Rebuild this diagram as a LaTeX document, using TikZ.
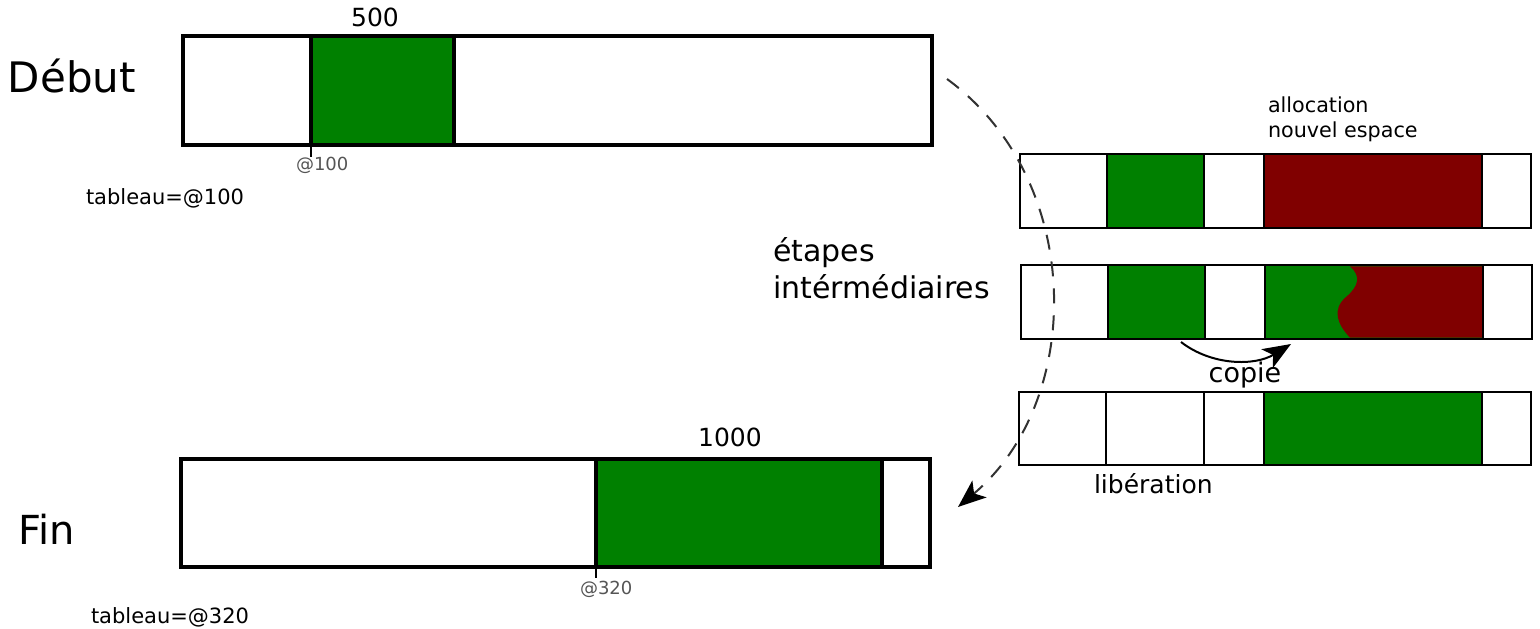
\documentclass[tikz,border=0pt]{standalone}
\usepackage{fontspec}
\setmainfont{DejaVu Sans}
\usetikzlibrary{arrows.meta}
\definecolor{memgreen}{RGB}{0,128,0}
\definecolor{memred}{RGB}{128,0,0}
\definecolor{addrgray}{RGB}{85,85,85}
\definecolor{dashgray}{RGB}{50,50,50}
\tikzset{
  fs/.style={font=\fontsize{#1}{#1}\selectfont},
  cellbase/.style={draw=black, fill=white, inner sep=0pt, outer sep=0pt, anchor=north west, rectangle},
  bigcell/.style={cellbase, line width=3.8pt},
  smallcell/.style={cellbase, line width=2.6pt},
  usedcell/.style={fill=memgreen},
  newcell/.style={fill=memred},
  lbl/.style={inner sep=0pt, outer sep=0pt, anchor=base west},
  addr/.style={lbl, fs=18, text=addrgray},
  tick/.style={line width=1.6pt, draw=black},
  flow/.style={dashgray, line width=2pt, dash pattern=on 15pt off 12pt, -{Stealth[length=28pt,width=22pt,inset=7pt,black]}},
  copyarrow/.style={black, line width=2pt, -{Stealth[length=28pt,width=22pt,inset=7pt]}},
}
\begin{document}
\begin{tikzpicture}[x=1pt, y=-1pt]
\useasboundingbox (0,0) rectangle (1540,629);

% ---------- Debut ----------
\node[bigcell, minimum width=749pt, minimum height=109pt] (d) at (183,36) {};
\node[bigcell, usedcell, minimum width=143pt, minimum height=109pt] (dg) at (311,36) {};
\node[lbl, fs=42] (tdebut) at (8,92) {Début};
\node[lbl, fs=25, anchor=base] (t500) at (375,27) {500};
\draw[tick] (dg.south west) -- ++(0,12) coordinate (dtick);
\node[addr] (a100) at (296,170) {@100};
\node[lbl, fs=21] (tab100) at (86,204) {tableau=@100};

% ---------- Fin ----------
\node[bigcell, minimum width=749pt, minimum height=108pt] (f) at (181,459) {};
\node[bigcell, usedcell, minimum width=286pt, minimum height=108pt] (fg) at (596,459) {};
\node[lbl, fs=40] (tfin) at (18,544) {Fin};
\node[lbl, fs=25, anchor=base] (t1000) at (730,446) {1000};
\draw[tick] (fg.south west) -- ++(0,11) coordinate (ftick);
\node[addr] (a320) at (580,594) {@320};
\node[lbl, fs=21] (tab320) at (91,623) {tableau=@320};

% ---------- row 1 : allocation ----------
\node[smallcell, minimum width=87pt, minimum height=74pt] (r1a) at (1020,154) {};
\node[smallcell, usedcell, minimum width=97pt, minimum height=74pt] (r1b) at (1107,154) {};
\node[smallcell, minimum width=60pt, minimum height=74pt] (r1c) at (1204,154) {};
\node[smallcell, newcell, minimum width=218pt, minimum height=74pt] (r1d) at (1264,154) {};
\node[smallcell, minimum width=49pt, minimum height=74pt] (r1e) at (1482,154) {};
\node[lbl, fs=20.7] (talloc1) at (1268,112) {allocation};
\node[lbl, fs=20.7] (talloc2) at (1268,137) {nouvel espace};

% ---------- row 2 : copie ----------
\node[smallcell, minimum width=87pt, minimum height=74pt] (r2a) at (1021,265) {};
\node[smallcell, usedcell, minimum width=97pt, minimum height=74pt] (r2b) at (1108,265) {};
\node[smallcell, minimum width=60pt, minimum height=74pt] (r2c) at (1205,265) {};
\node[smallcell, usedcell, minimum width=218pt, minimum height=74pt] (r2d) at (1265,265) {};
\node[smallcell, minimum width=49pt, minimum height=74pt] (r2e) at (1483,265) {};
\fill[memred] (1350,266.3) .. controls (1361,276) and (1359,286) .. (1346,297)
  .. controls (1331,310) and (1338,325) .. (1350,337.7) -- (1482,337.7) -- (1482,266.3) -- cycle;
\draw[line width=2.6pt] (r2d.north west) rectangle (r2d.south east);
\coordinate (cstart) at (1181,342);
\coordinate (cend) at (1291,344);
\draw[copyarrow] (cstart) .. controls (1212,366) and (1255,366) .. (cend);
\node[lbl, fs=27, anchor=base] (tcopie) at (1245,382) {copie};

% ---------- row 3 : liberation ----------
\node[smallcell, minimum width=87pt, minimum height=73pt] (r3a) at (1019,392) {};
\node[smallcell, minimum width=98pt, minimum height=73pt] (r3b) at (1106,392) {};
\node[smallcell, minimum width=60pt, minimum height=73pt] (r3c) at (1204,392) {};
\node[smallcell, usedcell, minimum width=218pt, minimum height=73pt] (r3d) at (1264,392) {};
\node[smallcell, minimum width=49pt, minimum height=73pt] (r3e) at (1482,392) {};
\node[lbl, fs=25] (tlib) at (1094,493) {libération};

% ---------- intermediate label ----------
\node[lbl, fs=30] (tetapes1) at (773,261) {étapes};
\node[lbl, fs=30] (tetapes2) at (773,298) {intérmédiaires};

% ---------- dashed flow ----------
\coordinate (dashstart) at (947,79);
\coordinate (dashend) at (958,507);
\draw[flow] (dashstart) .. controls (1085,180) and (1085,400) .. (dashend);
\end{tikzpicture}
\end{document}
